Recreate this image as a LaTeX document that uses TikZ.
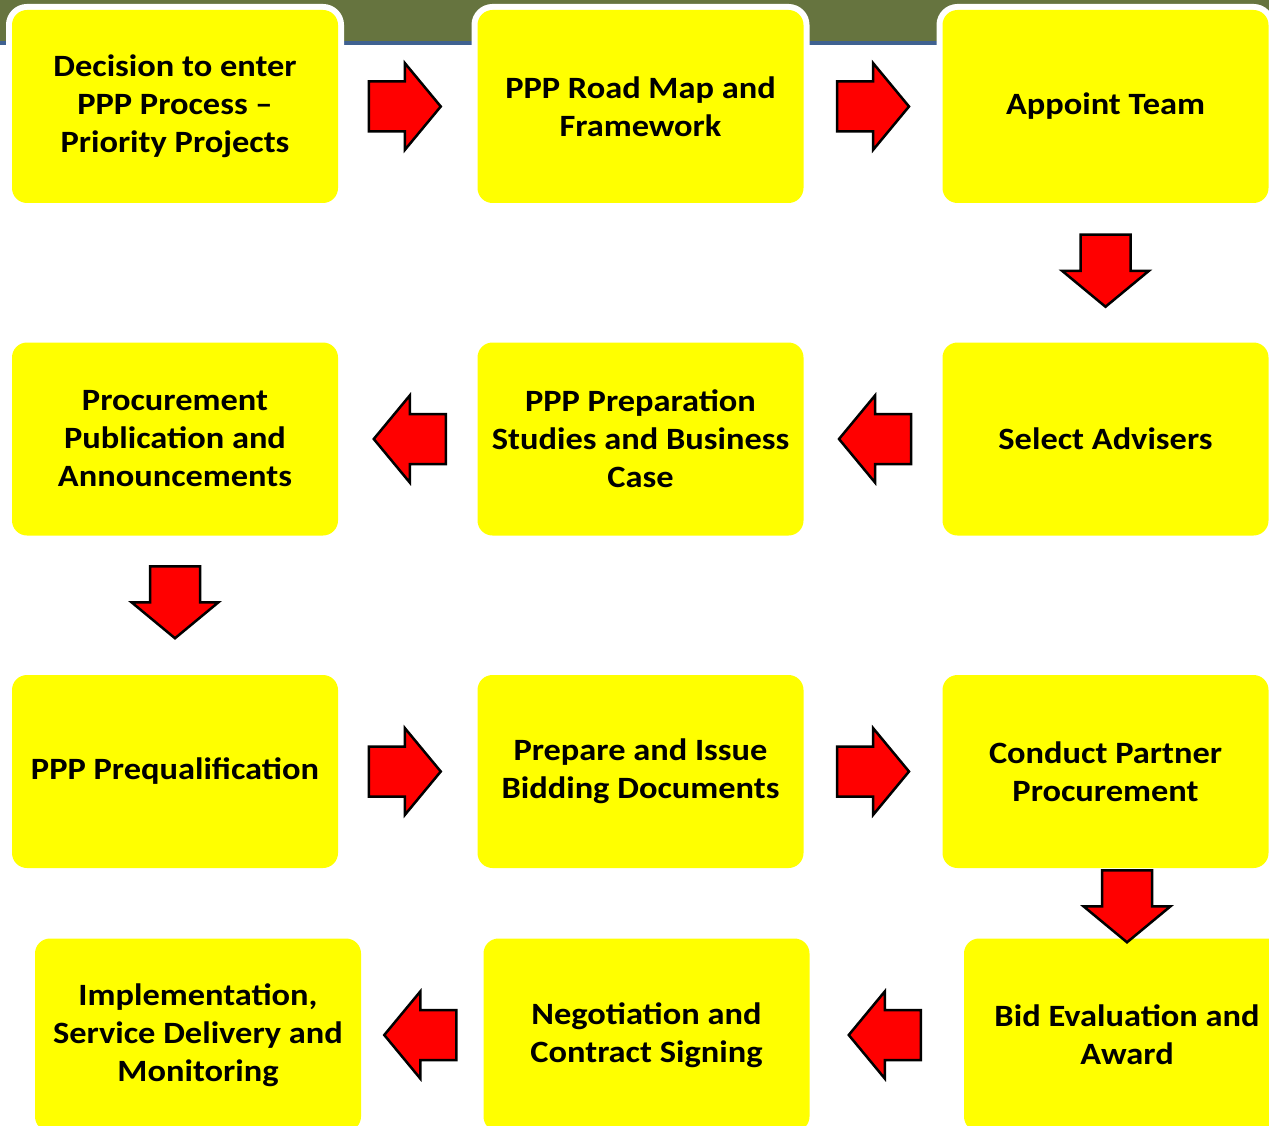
\documentclass[tikz,border=0pt]{standalone}
\usepackage{fontspec}
\setmainfont{Carlito}[FakeStretch=1.11]
\usetikzlibrary{calc}
\definecolor{band}{HTML}{66743F}
\definecolor{bandline}{HTML}{3F6190}
\definecolor{boxyellow}{HTML}{FFFF00}
\definecolor{arrred}{HTML}{FF0000}
\tikzset{
  stagebox/.style={fill=boxyellow, rounded corners=15pt, minimum width=326pt,
    minimum height=193pt, inner sep=0pt, align=center,
    font=\fontsize{31}{38}\selectfont\bfseries,
    preaction={draw=white, line width=12pt}},
  blockarrow/.pic={\draw[fill=arrred, draw=black, line width=2.5pt, line join=miter]
    (-36,-25) -- (0,-25) -- (0,-43.5) -- (36,0) -- (0,43.5) -- (0,25) -- (-36,25) -- cycle;}
}
\begin{document}
\begin{tikzpicture}[x=1pt,y=-1pt]
\useasboundingbox (0,0) rectangle (1269,1126);
\clip (0,0) rectangle (1269,1126);
\fill[white] (0,0) rectangle (1269,1126);
\fill[band] (0,0) rectangle (1269,41);
\fill[bandline] (0,41) rectangle (1269,45);
% row 1
\node[stagebox] (b1) at (175,106.5) {Decision to enter\\PPP Process –\\Priority Projects};
\node[stagebox] (b2) at (640.5,106.5) {PPP Road Map and\\Framework};
\node[stagebox] (b3) at (1105.5,106.5) {Appoint Team};
% row 2
\node[stagebox] (b4) at (1105.5,439) {Select Advisers};
\node[stagebox] (b5) at (640.5,439) {PPP Preparation\\Studies and Business\\Case};
\node[stagebox] (b6) at (175,439) {Procurement\\Publication and\\Announcements};
% row 3
\node[stagebox] (b7) at (175,771.5) {PPP Prequalification};
\node[stagebox] (b8) at (640.5,771.5) {Prepare and Issue\\Bidding Documents};
\node[stagebox] (b9) at (1105.5,771.5) {Conduct Partner\\Procurement};
% row 4
\node[stagebox] (b10) at (1127,1035) {Bid Evaluation and\\Award};
\node[stagebox] (b11) at (646.5,1035) {Negotiation and\\Contract Signing};
\node[stagebox] (b12) at (198,1035) {Implementation,\\Service Delivery and\\Monitoring};
% arrows
\pic at ($(b1.east)!0.5!(b2.west)+(-3,0)$) {blockarrow};
\pic at ($(b2.east)!0.5!(b3.west)$) {blockarrow};
\pic[rotate=-90] at ($(b3.south)!0.5!(b4.north)+(0,-2)$) {blockarrow};
\pic[rotate=180] at ($(b4.west)!0.5!(b5.east)+(2,0)$) {blockarrow};
\pic[rotate=180] at ($(b5.west)!0.5!(b6.east)+(2,0)$) {blockarrow};
\pic[rotate=-90] at ($(b6.south)!0.5!(b7.north)+(0,-3)$) {blockarrow};
\pic at ($(b7.east)!0.5!(b8.west)+(-3,0)$) {blockarrow};
\pic at ($(b8.east)!0.5!(b9.west)$) {blockarrow};
\pic[rotate=-90] at ($(b10.north)+(0,-32)$) {blockarrow};
\pic[rotate=180] at ($(b10.west)!0.5!(b11.east)+(-2,0)$) {blockarrow};
\pic[rotate=180] at ($(b11.west)!0.5!(b12.east)+(-2,0)$) {blockarrow};
\end{tikzpicture}
\end{document}
